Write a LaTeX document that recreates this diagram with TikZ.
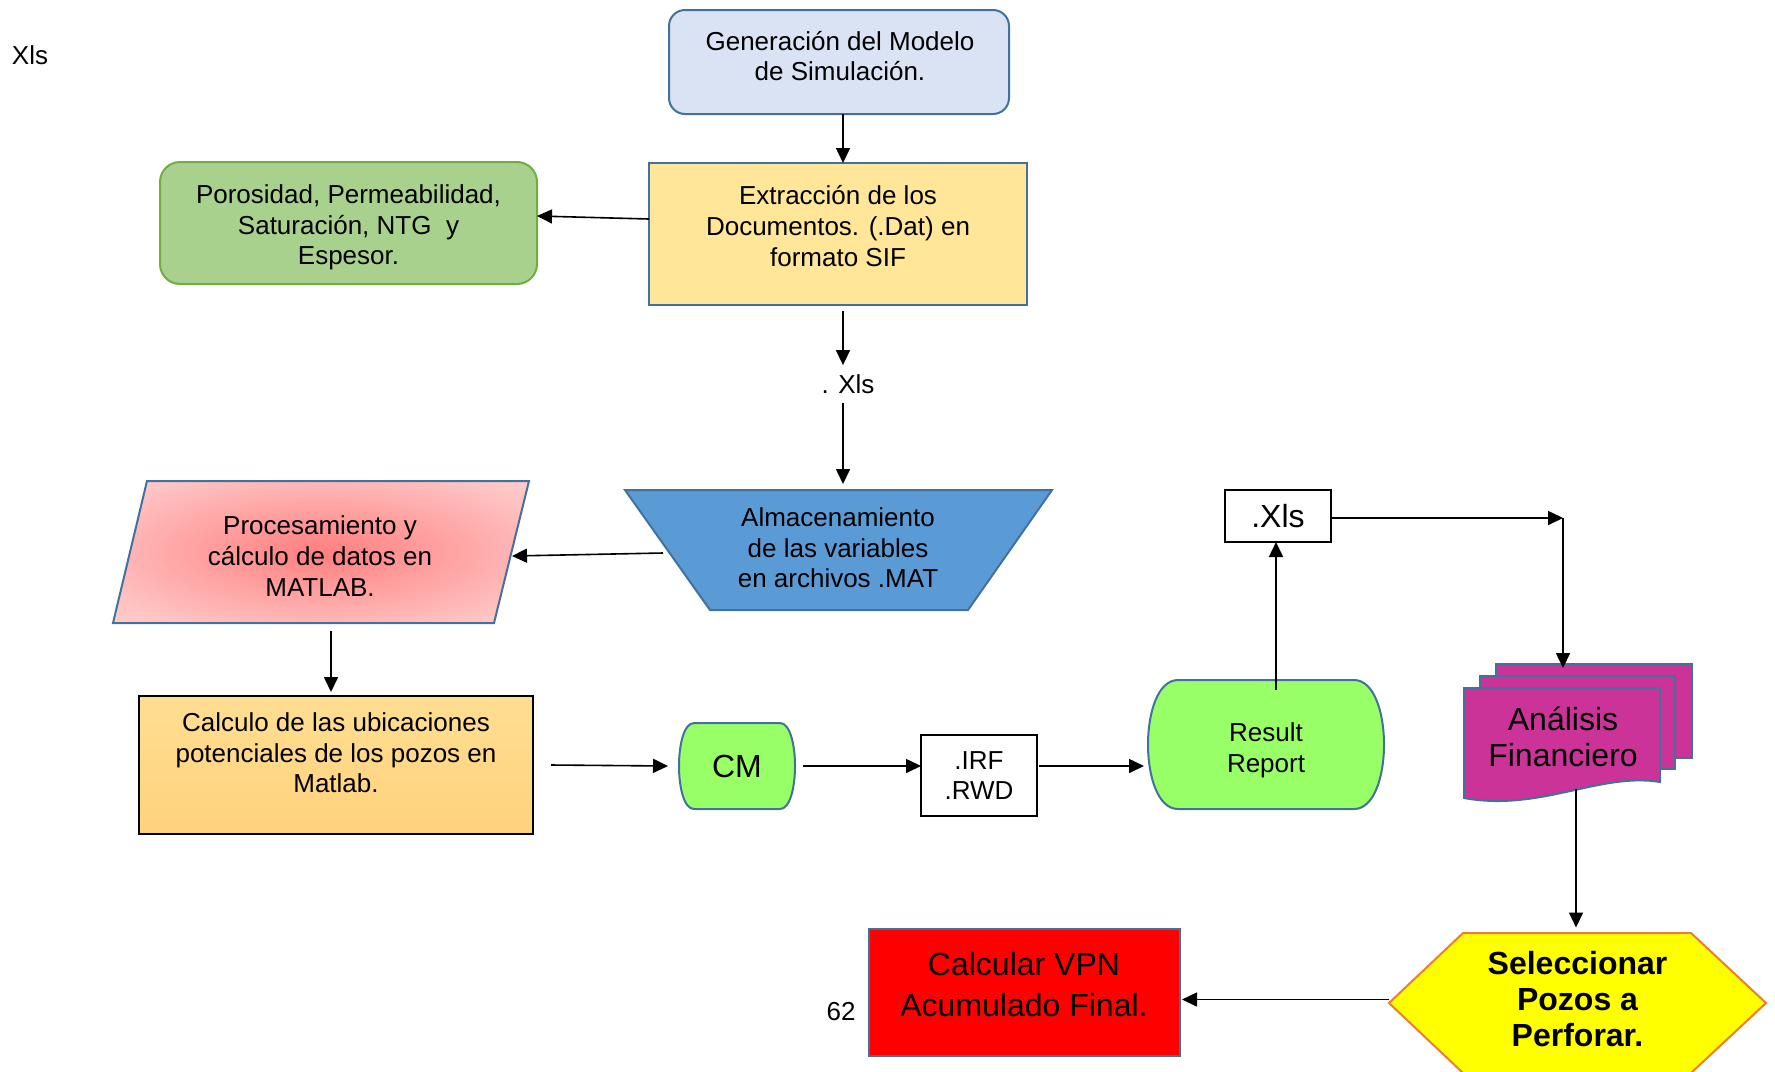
\documentclass[tikz,border=0pt]{standalone}
\usepackage{fontspec}
\setmainfont{Liberation Sans}
\usetikzlibrary{arrows.meta,calc}
\definecolor{bord}{HTML}{41719C}
\definecolor{genfill}{HTML}{DAE3F3}
\definecolor{extfill}{HTML}{FFE699}
\definecolor{porfill}{HTML}{A9D18E}
\definecolor{porbord}{HTML}{70AD47}
\definecolor{almfill}{HTML}{5B9BD5}
\definecolor{procin}{HTML}{FF7F7F}
\definecolor{procmid}{HTML}{FFC4C4}
\definecolor{procout}{HTML}{FFE4E4}
\definecolor{calctop}{HTML}{FFDE92}
\definecolor{calcbot}{HTML}{FFD27C}
\definecolor{greenfill}{HTML}{99FF66}
\definecolor{docfill}{HTML}{CC3399}
\definecolor{hexfill}{HTML}{FFFF00}
\definecolor{hexbord}{HTML}{ED7D31}
\definecolor{vpnfill}{HTML}{FF0000}
\pgfdeclareradialshading{procshade}{\pgfpoint{0bp}{0bp}}{color(0bp)=(procin); color(30bp)=(procmid); color(50bp)=(procout); color(72bp)=(procout)}
\begin{document}
\begin{tikzpicture}[x=0.5pt,y=-0.5pt,
  arr/.style={line width=0.8pt,-{Triangle[length=7.5pt,width=7pt]}},
  txt/.style={align=center,font=\fontsize{13}{15.3}\selectfont,inner sep=0pt},
  bigtxt/.style={align=center,font=\fontsize{16}{18}\selectfont,inner sep=0pt},
  shp/.style={draw=bord,line width=1pt},
  blank/.style={inner sep=0pt,outer sep=0pt}]
\useasboundingbox (0,0) rectangle (1775,1071);

\node[txt] (xlsTop) at (30,55) {Xls};

% Generacion
\node[shp,fill=genfill,rounded corners=8pt,minimum width=170pt,minimum height=52pt,blank] (gen) at (839,62) {};
\node[txt] (genT) at (840,56) {Generación del Modelo\\de Simulación.};

% Extraccion
\node[shp,fill=extfill,minimum width=189pt,minimum height=71pt,blank] (ext) at (838,234) {};
\node[txt] (extT) at (838,226) {Extracción de los\\Documentos. (.Dat) en\\formato SIF};

% Porosidad
\node[draw=porbord,line width=1pt,fill=porfill,rounded corners=10pt,minimum width=188.5pt,minimum height=61pt,blank] (por) at (348.5,223) {};
\node[txt] (porT) at (348.5,227.5) {Porosidad, Permeabilidad,\\Saturación, NTG\ \ y\\Espesor.};

\coordinate (c1) at (843,0);
\coordinate (colr) at (1276,0);
\node[txt,minimum height=18.5pt] (xl) at (848,384) {. Xls};

% Almacenamiento
\draw[shp,fill=almfill] (625,490) -- (1052,490) -- (968,610) -- (710,610) -- cycle;
\node[txt] (almT) at (838,548) {Almacenamiento\\de las variables\\en archivos .MAT};
\coordinate (almTop) at (843,490);
\coordinate (almL) at (663,553);

% Procesamiento
\shadedraw[shp,shading=procshade] (147,481) -- (529,481) -- (494,623) -- (113,623) -- cycle;
\node[txt] (procT) at (320,556) {Procesamiento y\\cálculo de datos en\\MATLAB.};
\coordinate (procR) at (512,556);
\coordinate (procB) at (331,631);

% Calculo
\node[draw=black,line width=0.6pt,top color=calctop,bottom color=calcbot,minimum width=197pt,minimum height=69pt,blank] (calc) at (336,765) {};
\node[txt] (calcT) at (336,753) {Calculo de las ubicaciones\\potenciales de los pozos en\\Matlab.};

% CM
\draw[shp,fill=greenfill] (694,723) -- (780,723) .. controls (800,723) and (800,809) .. (780,809) -- (694,809) .. controls (674,809) and (674,723) .. (694,723) -- cycle;
\node[bigtxt,blank,minimum width=58pt,minimum height=43pt] (cm) at (737,766) {CM};

% IRF RWD
\node[draw=black,line width=0.8pt,fill=white,minimum width=58pt,minimum height=40.5pt,blank,txt] (irf) at (979,775.5) {.IRF\\.RWD};

% Result Report
\draw[shp,fill=greenfill] (1178,680) -- (1354,680) .. controls (1394,680) and (1394,809) .. (1354,809) -- (1178,809) .. controls (1138,809) and (1138,680) .. (1178,680) -- cycle;
\node[blank,minimum width=118pt,minimum height=64.5pt] (rr) at (1266,744.5) {};
\node[txt] (rrT) at (1266,750) {Result\\Report};

% .Xls box
\node[draw=black,line width=0.8pt,fill=white,minimum width=53pt,minimum height=26pt,blank,bigtxt] (xlsbox) at (1278,516) {.Xls};

% Documents
\node[shp,fill=docfill,minimum width=98pt,minimum height=47pt,blank] (docB) at (1594,711) {};
\node[shp,fill=docfill,minimum width=97.5pt,minimum height=46.5pt,blank] (docM) at (1577.5,722.5) {};
\draw[shp,fill=docfill] (1464,688) -- (1660,688) -- (1660,782) .. controls (1600,772) and (1540,812) .. (1464,798) -- cycle;
\node[bigtxt,blank,minimum width=98pt,minimum height=62pt] (docF) at (1563,737) {Análisis\\Financiero};

% Hexagon
\draw[draw=hexbord,line width=1pt,fill=hexfill] (1389,1003) -- (1463,933) -- (1691,933) -- (1766,1003) -- (1691,1073) -- (1463,1073) -- cycle;
\node[align=center,font=\fontsize{16}{18}\selectfont\bfseries,blank,minimum width=188.5pt,minimum height=70pt] (hex) at (1577.5,999.5) {Seleccionar\\Pozos a\\Perforar.};

% VPN
\node[shp,fill=vpnfill,minimum width=155.5pt,minimum height=63.5pt,blank] (vpn) at (1024.5,992.5) {};
\node[align=center,font=\fontsize{16}{20.5}\selectfont,inner sep=0pt] (vpnT) at (1024,985) {Calcular VPN\\Acumulado Final.};

\node[txt] (n62) at (841,1012) {62};

% Connectors
\draw[arr] (gen.south -| c1) -- (ext.north -| c1);
\draw[arr] ([yshift=7.5pt]ext.west) -- ([yshift=3.5pt]por.east);
\draw[arr] ($(ext.south -| c1)+(0,6)$) -- (xl.north -| c1);
\draw[arr] (xl.south -| c1) -- ($(almTop)+(0,-6)$);
\draw[arr] (almL) -- (procR);
\draw[arr] (procB) -- ($(calc.north -| procB)+(0,-4)$);
\draw[arr] ($(calc.east)+(18,0)$) -- ($(cm.west)+(-11,0)$);
\draw[arr] ($(cm.east)+(8,0)$) -- (irf.west |- cm.east);
\draw[arr] ($(irf.east |- cm.east)+(2,0)$) -- ($(rr.west |- cm.east)+(-4,0)$);
\draw[arr] ($(rr.north -| colr)+(0,10)$) -- (xlsbox.south -| colr);
\coordinate (corner) at (1563,518);
\draw[arr] (xlsbox.east |- corner) -- (corner);
\draw[arr] (corner) -- ($(docB.north -| corner)+(0,4)$);
\draw[arr] ($(docF.south)+(13,-10)$) -- ($(hex.north)+(-1.5,-2)$);
\draw[arr] (hex.west) -- ($(vpn.east |- hex.west)+(2,0)$);
\end{tikzpicture}
\end{document}
